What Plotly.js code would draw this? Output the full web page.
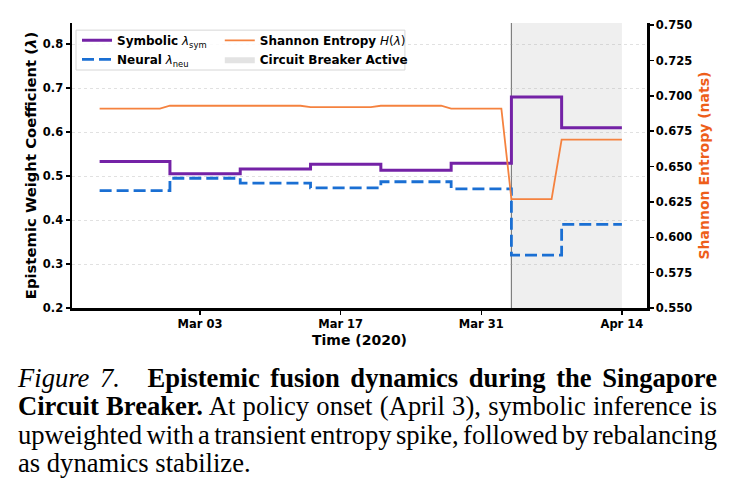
<!DOCTYPE html>
<html>
<head>
<meta charset="utf-8">
<script src="https://cdn.plot.ly/plotly-3.0.1.min.js"></script>
<style>
html,body{margin:0;padding:0;background:#fff;}
#wrap{position:relative;width:735px;height:497px;overflow:hidden;background:#fff;}
#chart{position:absolute;left:0;top:0;width:735px;height:497px;}
#caption{position:absolute;left:18px;top:363.5px;width:699px;font-family:'Liberation Serif','Times New Roman',serif;font-size:26.6px;line-height:28.6px;color:#000;word-spacing:-2.5px;}
#caption .j{text-align:justify;text-align-last:justify;}
</style>
</head>
<body>
<div id="wrap">
<div id="chart"></div>
<div id="caption">
<div class="j" style="font-size:26.6px;line-height:28.6px;"><i>Figure 7.</i><span style="display:inline-block;width:17px"></span> <b>Epistemic fusion dynamics during the Singapore</b></div>
<div class="j" style="font-size:26.6px;line-height:28.6px;"><b>Circuit Breaker.</b> At policy onset (April 3), symbolic inference is</div>
<div class="j" style="font-size:26.6px;line-height:28.6px;">upweighted with a transient entropy spike, followed by rebalancing</div>
<div style="font-size:26.6px;line-height:28.6px;word-spacing:0px;">as dynamics stabilize.</div>
</div>
</div>
<script>
// ---- data (weekly regimes) ----
const segStart = ['2020-02-22','2020-02-29','2020-03-07','2020-03-14','2020-03-21','2020-03-28','2020-04-03','2020-04-08'];
const segEnd   = ['2020-02-28','2020-03-06','2020-03-13','2020-03-20','2020-03-27','2020-04-02','2020-04-07','2020-04-14'];
const symbolic = [0.533, 0.505, 0.516, 0.527, 0.513, 0.529, 0.680, 0.610];
const neural   = [0.467, 0.495, 0.484, 0.473, 0.487, 0.471, 0.320, 0.390];
const entropy  = [0.691, 0.693, 0.693, 0.692, 0.693, 0.691, 0.627, 0.669];
const breakerStart = '2020-04-03';
const breakerEnd   = '2020-04-14';
const xTickVals = ['2020-03-03','2020-03-17','2020-03-31','2020-04-14'];
const xTickText = ['Mar 03','Mar 17','Mar 31','Apr 14'];
const leftTickVals  = [0.2,0.3,0.4,0.5,0.6,0.7,0.8];
const rightTickVals = [0.550,0.575,0.600,0.625,0.650,0.675,0.700,0.725,0.750];

// step traces (held until next regime start)
const lastEnd = segEnd[segEnd.length-1];
const stepX = segStart.concat([lastEnd]);
const symY = symbolic.concat([symbolic[symbolic.length-1]]);
const neuY = neural.concat([neural[neural.length-1]]);
// entropy: constant within each regime, linear between days
const entX = [], entY = [];
segStart.forEach((s,i)=>{ entX.push(s, segEnd[i]); entY.push(entropy[i], entropy[i]); });

const C_SYM = '#7422a6', C_NEU = '#1a6fd3', C_ENT = '#f5823f', C_ENT_LAB = '#ee5e1a';

const traces = [
  {x:stepX, y:symY, type:'scatter', mode:'lines', line:{shape:'hv', color:C_SYM, width:3},
   name:'<b>Symbolic</b> <i>λ</i><sub>sym</sub>', legend:'legend'},
  {x:stepX, y:neuY, type:'scatter', mode:'lines', line:{shape:'hv', color:C_NEU, width:2.8, dash:'12px,5px'},
   name:'<b>Neural</b> <i>λ</i><sub>neu</sub>', legend:'legend'},
  {x:entX, y:entY, type:'scatter', mode:'lines', yaxis:'y2', line:{color:C_ENT, width:1.8},
   name:'<b>Shannon Entropy</b> <i>H</i>(<i>λ</i>)', legend:'legend2'},
  // legend entry for the shaded policy window (region itself drawn as a shape)
  {x:[breakerStart, breakerEnd], y:[null, null], type:'scatter', mode:'lines', fill:'toself',
   fillcolor:'#e3e3e3', line:{width:0, color:'#e3e3e3'},
   name:'<b>Circuit Breaker Active</b>', legend:'legend2'}
];

const tickFont = {family:'DejaVu Sans', size:11.5, weight:'bold', color:'#000'};
const axisCommon = {ticks:'outside', ticklen:4, tickwidth:1.5, tickcolor:'#000', showline:true, linewidth:2.5,
  linecolor:'#000', zeroline:false, tickfont:tickFont};

const layout = {
  width:735, height:497,
  margin:{l:72, r:88, t:23, b:189, pad:0},
  paper_bgcolor:'rgba(0,0,0,0)', plot_bgcolor:'#fff',
  font:{family:'DejaVu Sans', color:'#000'},
  showlegend:true,
  xaxis:Object.assign({}, axisCommon, {type:'date', range:['2020-02-19 06:00','2020-04-16 12:00'],
    tickvals:xTickVals, ticktext:xTickText, showgrid:false,
    title:{text:'Time (2020)', font:{family:'DejaVu Sans', size:14, weight:'bold', color:'#000'}, standoff:5}}),
  yaxis:Object.assign({}, axisCommon, {range:[0.2,0.848], tickvals:leftTickVals, tickformat:'.1f',
    showgrid:true, gridcolor:'rgba(170,170,170,0.35)', griddash:'dot', gridwidth:1,
    title:{text:'Epistemic Weight Coefficient (<i>λ</i>)', font:{family:'DejaVu Sans', size:14.8, weight:'bold', color:'#000'}, standoff:3}}),
  yaxis2:Object.assign({}, axisCommon, {overlaying:'y', side:'right', range:[0.55,0.7515], tickvals:rightTickVals,
    tickformat:'.3f', showgrid:false,
    title:{text:'Shannon Entropy (nats)', font:{family:'DejaVu Sans', size:14, weight:'bold', color:C_ENT_LAB}, standoff:8}}),
  legend:{x:0.0087, y:0.99, xanchor:'left', yanchor:'top', bgcolor:'rgba(0,0,0,0)', borderwidth:0,
    font:{family:'DejaVu Sans', size:12, color:'#000'}, tracegroupgap:0},
  legend2:{x:0.257, y:0.99, xanchor:'left', yanchor:'top', bgcolor:'rgba(0,0,0,0)', borderwidth:0,
    font:{family:'DejaVu Sans', size:12, color:'#000'}, tracegroupgap:0},
  shapes:[
    {type:'rect', xref:'x', yref:'paper', x0:breakerStart, x1:breakerEnd, y0:0, y1:1,
     fillcolor:'#efefef', line:{width:0}, layer:'below'},
    {type:'line', xref:'x', yref:'paper', x0:breakerStart, x1:breakerStart, y0:0, y1:1,
     line:{color:'#808080', width:1.2}, layer:'below'},
    {type:'rect', xref:'paper', yref:'paper', x0:0.007, x1:0.579, y0:0.835, y1:0.975,
     fillcolor:'rgba(255,255,255,0.85)', line:{color:'#d6d6d6', width:1}, layer:'above'}
  ]
};

Plotly.newPlot('chart', traces, layout, {staticPlot:true, displayModeBar:false});
</script>
</body>
</html>
